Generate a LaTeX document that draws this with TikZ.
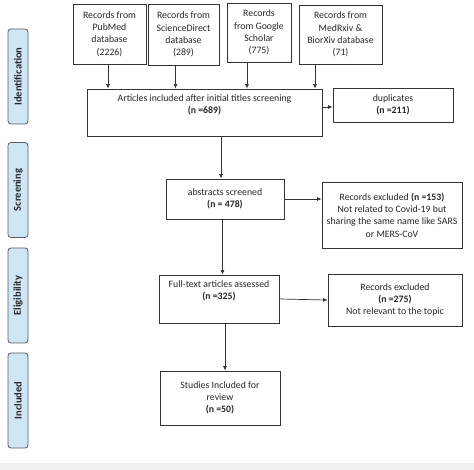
\documentclass[tikz,border=0pt]{standalone}
\usepackage{fontspec}
\setmainfont{Carlito}
\usetikzlibrary{arrows.meta,calc}
\definecolor{sidefill}{HTML}{CFE6F7}
\definecolor{sidedraw}{HTML}{5A5A5A}
\definecolor{boxdraw}{HTML}{333333}
\tikzset{
  box/.style={draw=boxdraw,line width=0.9pt,align=center,inner sep=1pt,
    font=\fontsize{9.8}{12.3}\selectfont,text=black!85},
  side/.style={draw=sidedraw,fill=sidefill,rounded corners=3pt,line width=0.8pt,
    minimum width=20pt,minimum height=95pt,inner sep=0pt},
  sidetext/.style={rotate=90,font=\fontsize{10.5}{12}\selectfont\bfseries,text=black!85},
  arr/.style={draw=black!80,line width=0.7pt,-{Latex[length=4.5pt,width=4pt]}}
}
\begin{document}
\begin{tikzpicture}[x=1pt,y=-1pt]
\useasboundingbox (0,0) rectangle (474,470);
\fill[gray!12] (0,463) rectangle (474,470);
% side labels
\node[side] (sid) at (18,76.5) {};
\node[sidetext] (sidt) at (sid.center) {Identification};
\node[side] (sscr) at (18,190) {};
\node[sidetext] (sscrt) at (sscr.center) {Screening};
\node[side] (selg) at (18,295.5) {};
\node[sidetext] (selgt) at (selg.center) {Eligibility};
\node[side] (sinc) at (18,400.5) {};
\node[sidetext] (sinct) at (sinc.center) {Included};
% sources
\node[box,minimum width=73pt,minimum height=60pt] (pub) at (109.5,34) {Records from\\PubMed\\database\\(2226)};
\node[box,minimum width=71pt,minimum height=61pt] (sci) at (183.5,34.5) {Records from\\ScienceDirect\\database\\(289)};
\node[box,minimum width=64pt,minimum height=59pt] (goo) at (259,32.5) {Records\\from Google\\Scholar\\(775)};
\node[box,minimum width=83pt,minimum height=59pt] (med) at (340.5,34.5) {Records from\\MedRxiv \&\\BiorXiv database\\(71)};
% main flow
\node[box,minimum width=235pt,minimum height=47pt] (art) at (204.5,112.5) {Articles included after initial titles screening\\\textbf{(n =689)}\\[4pt]};
\node[box,minimum width=120pt,minimum height=34pt] (dup) at (393,105) {duplicates\\\textbf{(n =211)}};
\node[box,minimum width=118pt,minimum height=40pt] (abs) at (225,199) {abstracts screened\\\textbf{(n = 478)}};
\node[box,minimum width=140pt,minimum height=66pt] (ex1) at (392,215) {Records excluded \textbf{(n =153)}\\Not related to Covid-19 but\\sharing the same name like SARS\\or MERS-CoV};
\node[box,minimum width=120pt,minimum height=48pt] (ft) at (219,299) {Full-text articles assessed\\\textbf{(n =325)}\\[6pt]};
\node[box,minimum width=134pt,minimum height=52pt] (ex2) at (395,300) {Records excluded\\\textbf{(n =275)}\\Not relevant to the topic};
\node[box,minimum width=120pt,minimum height=54pt] (stu) at (220,398) {Studies Included for\\review\\\textbf{(n =50)}};
% arrow x positions
\coordinate (c1) at (108,0);
\coordinate (c2) at (175.5,0);
\coordinate (c3) at (247,0);
\coordinate (c4) at (315,0);
\coordinate (c5) at (221,0);
\coordinate (c6) at (222.5,0);
\coordinate (c7) at (225,0);
\coordinate (c8) at (0,107);
\draw[arr] (pub.south -| c1) -- (art.north -| c1);
\draw[arr] (sci.south -| c2) -- (art.north -| c2);
\draw[arr] (goo.south -| c3) -- (art.north -| c3);
\draw[arr] (med.south -| c4) -- (art.north -| c4);
\draw[arr] (art.east |- c8) -- (dup.west |- c8);
\draw[arr] (art.south -| c5) -- (abs.north -| c5);
\draw[arr] (abs.east) -- (abs.east -| ex1.west);
\draw[arr] (abs.south -| c6) -- (ft.north -| c6);
\draw[arr] (ft.east) -- (ex2.west);
\draw[arr] (ft.south -| c7) -- (stu.north -| c7);
\end{tikzpicture}
\end{document}
